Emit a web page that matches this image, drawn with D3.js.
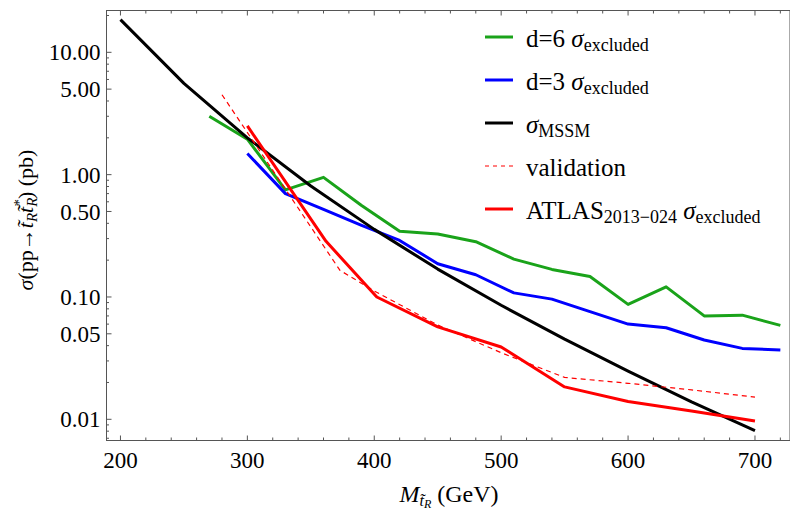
<!DOCTYPE html>
<html>
<head>
<meta charset="utf-8">
<script src="https://cdn.jsdelivr.net/npm/d3@7"></script>
<style>
  body { margin: 0; background: #fff; }
  svg { font-family: "Liberation Serif", "Times New Roman", serif; }
</style>
</head>
<body>
<svg id="chart" width="790" height="510"></svg>
<script>
// Values (mass in GeV, cross section in pb)
var massMSSM = [200, 250, 300, 350, 400, 450, 500, 550, 600, 650, 700];
var sigmaMSSM = [18.5, 5.57, 1.996, 0.807, 0.357, 0.169, 0.0855, 0.0452, 0.0248, 0.0139, 0.00807];

var massD6 = [270, 300, 330, 360, 390, 420, 450, 480, 510, 540, 570, 600, 630, 660, 690, 720];
var sigmaD6 = [3.0, 1.95, 0.75, 0.95, 0.56, 0.345, 0.327, 0.283, 0.204, 0.168, 0.147, 0.087, 0.121, 0.070, 0.071, 0.0586];

var massD3 = [300, 330, 360, 390, 420, 450, 480, 510, 540, 570, 600, 630, 660, 690, 720];
var sigmaD3 = [1.49, 0.70, 0.52, 0.385, 0.29, 0.187, 0.152, 0.108, 0.096, 0.076, 0.060, 0.056, 0.0445, 0.038, 0.0368];

var massValid = [280, 373, 400, 450, 500, 550, 600, 650, 700];
var sigmaValid = [4.5, 0.165, 0.112, 0.059, 0.035, 0.022, 0.0197, 0.0174, 0.0152];

var massAtlas = [300, 362, 402, 450, 500, 550, 600, 650, 700];
var sigmaAtlas = [2.5, 0.285, 0.1, 0.057, 0.039, 0.0184, 0.014, 0.0117, 0.0097];

var xTickValues = [200, 300, 400, 500, 600, 700];
var yTickValues = [10, 5, 1, 0.5, 0.1, 0.05, 0.01];
var yTickLabels = ["10.00", "5.00", "1.00", "0.50", "0.10", "0.05", "0.01"];

function zipSeries(xs, ys) {
  return xs.map(function(x, i) { return {m: x, s: ys[i]}; });
}

function renderExclusionPlot(targetElement) {
  var svg = d3.select(targetElement),
    margin = {top: 10.5, right: 0, bottom: 69.5, left: 106.5},
    width = svg.attr("width") - margin.left - margin.right,
    height = svg.attr("height") - margin.top - margin.bottom;

  var x = d3.scaleLinear().domain([189, 727.6]).range([0, width]);
  var y = d3.scaleLog().domain([0.00671, 21.97]).range([height, 0]);
  var frameColor = "#555";

  var g = svg.append("g")
    .attr("transform", "translate(" + margin.left + "," + margin.top + ")");

  g.append("clipPath").attr("id", "plotclip")
    .append("rect").attr("width", width).attr("height", height);

  // minor ticks: every 20 GeV, and 2..9 per decade
  var xMinor = d3.range(200, 728, 20).filter(function(v) { return v % 100 !== 0; });
  var yMinor = [];
  [0.001, 0.01, 0.1, 1, 10].forEach(function(dec) {
    for (var k = 2; k <= 9; k++) {
      if (k !== 5) yMinor.push(dec * k);
    }
  });
  yMinor = yMinor.filter(function(v) { return v > y.domain()[0] && v < y.domain()[1]; });

  var ticks = g.append("g").attr("stroke", frameColor).attr("stroke-width", 1);
  // bottom + top
  xTickValues.forEach(function(v) {
    ticks.append("line").attr("x1", x(v)).attr("x2", x(v)).attr("y1", height).attr("y2", height - 5);
    ticks.append("line").attr("x1", x(v)).attr("x2", x(v)).attr("y1", 0).attr("y2", 5);
  });
  xMinor.forEach(function(v) {
    ticks.append("line").attr("x1", x(v)).attr("x2", x(v)).attr("y1", height).attr("y2", height - 3);
    ticks.append("line").attr("x1", x(v)).attr("x2", x(v)).attr("y1", 0).attr("y2", 3);
  });
  // left
  yTickValues.forEach(function(v) {
    ticks.append("line").attr("x1", 0).attr("x2", 5).attr("y1", y(v)).attr("y2", y(v));
  });
  yMinor.forEach(function(v) {
    ticks.append("line").attr("x1", 0).attr("x2", 2.5).attr("y1", y(v)).attr("y2", y(v));
  });

  // frame
  g.append("rect")
    .attr("width", width).attr("height", height)
    .attr("fill", "none").attr("stroke", frameColor).attr("stroke-width", 1);

  // tick labels
  g.append("g").selectAll("text").data(xTickValues).enter().append("text")
    .attr("x", function(d) { return x(d); })
    .attr("y", height + 27)
    .attr("text-anchor", "middle")
    .attr("font-size", 23)
    .text(function(d) { return d; });

  g.append("g").selectAll("text").data(yTickValues).enter().append("text")
    .attr("x", -6)
    .attr("y", function(d) { return y(d); })
    .attr("dy", "0.35em")
    .attr("text-anchor", "end")
    .attr("font-size", 23)
    .text(function(d, i) { return yTickLabels[i]; });

  var line = d3.line()
    .x(function(d) { return x(d.m); })
    .y(function(d) { return y(d.s); });

  var series = [
    {data: zipSeries(massD6, sigmaD6), color: "#1aa31a", width: 3, dash: null},
    {data: zipSeries(massD3, sigmaD3), color: "#0000ff", width: 3, dash: null},
    {data: zipSeries(massMSSM, sigmaMSSM), color: "#000000", width: 3, dash: null},
    {data: zipSeries(massValid, sigmaValid), color: "#ff0000", width: 1.2, dash: "5,4"},
    {data: zipSeries(massAtlas, sigmaAtlas), color: "#ff0000", width: 3, dash: null}
  ];

  var plot = g.append("g").attr("clip-path", "url(#plotclip)");
  series.forEach(function(s) {
    plot.append("path")
      .datum(s.data)
      .attr("d", line)
      .attr("fill", "none")
      .attr("stroke", s.color)
      .attr("stroke-width", s.width)
      .attr("stroke-dasharray", s.dash)
      .attr("stroke-linejoin", "round");
  });

  // Legend, drawn in svg coords
  var legend = svg.append("g").attr("font-size", 25);
  var rows = [
    {color: "#1aa31a", dash: null, parts: [["d=6 ", ""], ["σ", "it"], ["excluded", "sub"]]},
    {color: "#0000ff", dash: null, parts: [["d=3 ", ""], ["σ", "it"], ["excluded", "sub"]]},
    {color: "#000000", dash: null, parts: [["σ", "it"], ["MSSM", "sub"]]},
    {color: "#ff0000", dash: "4,4", parts: [["validation", ""]]},
    {color: "#ff0000", dash: null, parts: [["ATLAS", ""], ["2013−024", "sub"], [" ", ""], ["σ", "it"], ["excluded", "sub"]]}
  ];
  rows.forEach(function(r, i) {
    var ly = 37 + i * 43;
    legend.append("line")
      .attr("x1", 485).attr("x2", 513).attr("y1", ly).attr("y2", ly)
      .attr("stroke", r.color)
      .attr("stroke-width", r.dash ? 1.2 : 3)
      .attr("stroke-dasharray", r.dash);
    var t = legend.append("text").attr("x", 526).attr("y", ly + 10);
    var prevSub = false;
    r.parts.forEach(function(p) {
      var sp = t.append("tspan").text(p[0]);
      var isSub = p[1] === "sub";
      if (p[1] === "it") sp.attr("font-style", "italic");
      if (isSub) sp.attr("font-size", 18);
      if (isSub && !prevSub) sp.attr("dy", 4);
      if (!isSub && prevSub) sp.attr("dy", -4);
      prevSub = isSub;
    });
  });

  // X axis title
  var xt = svg.append("text")
    .attr("x", 449).attr("y", 502)
    .attr("text-anchor", "middle")
    .attr("font-size", 24);
  xt.append("tspan").attr("font-style", "italic").text("M");
  xt.append("tspan").attr("font-style", "italic").attr("font-size", 16).attr("dy", 4).text("t\u0303");
  xt.append("tspan").attr("font-style", "italic").attr("font-size", 12).attr("dy", 2).text("R");
  xt.append("tspan").attr("dy", -6).text(" (GeV)");

  // Y axis title
  var yt = svg.append("text")
    .attr("transform", "translate(33,220) rotate(-90)")
    .attr("text-anchor", "middle")
    .attr("font-size", 22);
  yt.append("tspan").attr("font-style", "italic").text("σ");
  yt.append("tspan").text("(pp→");
  yt.append("tspan").attr("font-style", "italic").text("t\u0303");
  yt.append("tspan").attr("font-style", "italic").attr("font-size", 15).attr("dy", 4).text("R");
  yt.append("tspan").attr("font-style", "italic").attr("dy", -4).text("t\u0303");
  yt.append("tspan").attr("font-style", "italic").attr("font-size", 15).attr("dy", 4).text("R");
  yt.append("tspan").attr("font-size", 15).attr("dx", -9).attr("dy", -13).text("*");
  yt.append("tspan").attr("dy", 9).text(") (pb)");
}

renderExclusionPlot("#chart");
</script>
</body>
</html>
